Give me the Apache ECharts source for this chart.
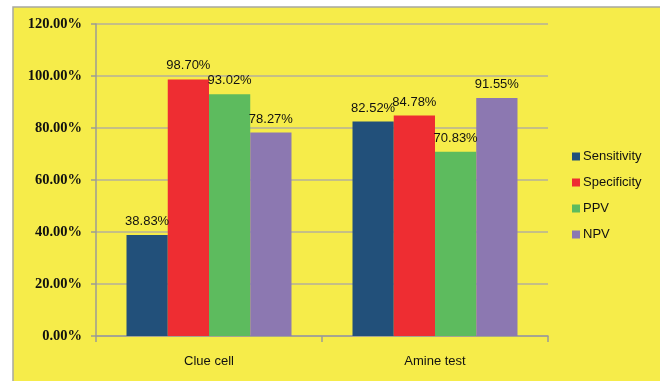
<!DOCTYPE html>
<html>
<head>
<meta charset="utf-8">
<script src="https://cdn.jsdelivr.net/npm/echarts@6/dist/echarts.min.js"></script>
<style>
  html, body { margin: 0; padding: 0; background: #ffffff; }
  #chart { width: 660px; height: 381px; }
</style>
</head>
<body>
<div id="chart"></div>
<script>
// Diagnostic performance of the two tests
const categories = ['Clue cell', 'Amine test'];
const seriesNames = ['Sensitivity', 'Specificity', 'PPV', 'NPV'];
const sensitivity = [38.83, 82.52];
const specificity = [98.70, 84.78];
const ppv = [93.02, 70.83];
const npv = [78.27, 91.55];
const yTicks = [0, 20, 40, 60, 80, 100, 120];

const colors = ['#22507a', '#ee2d32', '#5dbb5e', '#8c78b1'];
const values = [sensitivity, specificity, ppv, npv];
const fontFamily = '"Liberation Sans", Arial, sans-serif';

const chart = echarts.init(document.getElementById('chart'));

chart.setOption({
  animation: false,
  backgroundColor: '#ffffff',
  graphic: [{
    type: 'rect',
    shape: { x: 13, y: 7, width: 700, height: 400 },
    style: { fill: '#f6ec4a', stroke: '#a8a8a0', lineWidth: 1.5 },
    z: -10
  }],
  grid: { left: 96, right: 112, top: 24, bottom: 45, containLabel: false },
  legend: {
    orient: 'vertical',
    left: 572,
    top: 150,
    padding: 0,
    itemWidth: 8,
    itemHeight: 8,
    itemGap: 13,
    icon: 'rect',
    textStyle: { fontFamily, fontSize: 13, color: '#111', padding: [0, 0, 0, -2] },
    data: seriesNames
  },
  xAxis: {
    type: 'category',
    data: categories,
    axisLine: { lineStyle: { color: '#9c9c94', width: 1.5 } },
    axisTick: { show: true, length: 6, lineStyle: { color: '#9c9c94', width: 1.5 } },
    axisLabel: { fontFamily, fontSize: 13, color: '#111', margin: 19 }
  },
  yAxis: {
    type: 'value',
    min: yTicks[0],
    max: yTicks[yTicks.length - 1],
    interval: 20,
    axisLine: { show: true, lineStyle: { color: '#9c9c94', width: 1.5 } },
    axisTick: { show: true, length: 5, lineStyle: { color: '#9c9c94', width: 1.5 } },
    splitLine: { lineStyle: { color: '#b4b09a', width: 1.5 } },
    axisLabel: {
      fontFamily: '"Liberation Serif", serif',
      fontWeight: 'bold',
      fontSize: 14.5,
      color: '#111',
      margin: 14,
      formatter: v => v.toFixed(2) + '%'
    }
  },
  series: seriesNames.map((name, i) => ({
    name,
    type: 'bar',
    data: values[i],
    barGap: '0%',
    barCategoryGap: '27%',
    itemStyle: { color: colors[i] },
    label: {
      show: true,
      position: 'top',
      distance: 7,
      fontFamily,
      fontSize: 13,
      color: '#111',
      formatter: p => p.value.toFixed(2) + '%'
    }
  }))
});
</script>
</body>
</html>
